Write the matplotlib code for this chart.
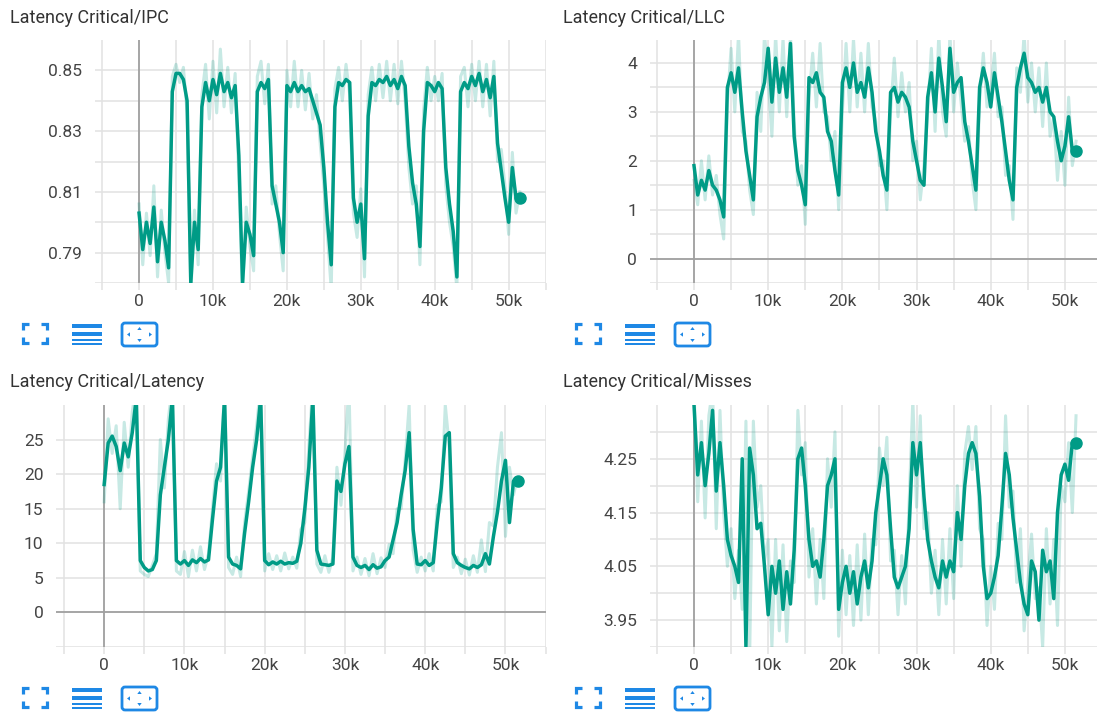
import matplotlib.pyplot as plt
import numpy as np
from matplotlib.patches import FancyBboxPatch, Polygon, Rectangle

plt.rcParams['font.family'] = ['Roboto', 'DejaVu Sans']

# training step of each logged point
steps = np.arange(0, 52000, 500)

# smoothed (dark) and raw (light) values
ipc = [0.803, 0.791, 0.800, 0.793, 0.805, 0.787, 0.800, 0.794, 0.785, 0.843,
       0.849, 0.849, 0.847, 0.840, 0.780, 0.800, 0.791, 0.838, 0.846, 0.840,
       0.847, 0.842, 0.849, 0.843, 0.846, 0.841, 0.845, 0.822, 0.780, 0.800,
       0.796, 0.789, 0.843, 0.846, 0.844, 0.847, 0.812, 0.806, 0.800, 0.790,
       0.845, 0.843, 0.846, 0.843, 0.845, 0.843, 0.844, 0.840, 0.836, 0.832,
       0.818, 0.800, 0.786, 0.838, 0.846, 0.845, 0.847, 0.846, 0.808, 0.800,
       0.806, 0.788, 0.835, 0.846, 0.845, 0.847, 0.846, 0.848, 0.845, 0.847,
       0.844, 0.848, 0.845, 0.825, 0.813, 0.806, 0.792, 0.830, 0.846, 0.845,
       0.843, 0.846, 0.844, 0.818, 0.806, 0.797, 0.782, 0.843, 0.846, 0.844,
       0.848, 0.845, 0.849, 0.843, 0.847, 0.841, 0.848, 0.826, 0.817, 0.808,
       0.800, 0.818, 0.808, 0.808]
ipc_raw = [0.806, 0.786, 0.803, 0.789, 0.812, 0.782, 0.804, 0.790, 0.780, 0.848,
           0.852, 0.846, 0.851, 0.836, 0.776, 0.804, 0.786, 0.842, 0.852, 0.834,
           0.853, 0.836, 0.857, 0.838, 0.851, 0.836, 0.849, 0.814, 0.776, 0.805,
           0.792, 0.784, 0.848, 0.853, 0.839, 0.852, 0.806, 0.812, 0.796, 0.784,
           0.850, 0.838, 0.853, 0.838, 0.850, 0.837, 0.849, 0.834, 0.842, 0.826,
           0.812, 0.795, 0.778, 0.844, 0.851, 0.840, 0.852, 0.842, 0.803, 0.795,
           0.811, 0.782, 0.842, 0.851, 0.840, 0.852, 0.841, 0.853, 0.840, 0.852,
           0.839, 0.853, 0.840, 0.818, 0.806, 0.812, 0.786, 0.837, 0.851, 0.840,
           0.848, 0.840, 0.849, 0.812, 0.800, 0.792, 0.778, 0.848, 0.851, 0.838,
           0.852, 0.840, 0.853, 0.838, 0.852, 0.835, 0.853, 0.820, 0.824, 0.812,
           0.796, 0.823, 0.803, 0.810]

llc = [1.9, 1.3, 1.6, 1.4, 1.8, 1.5, 1.4, 1.2, 0.85, 3.5,
       3.8, 3.4, 3.9, 3.0, 2.2, 1.7, 1.2, 2.9, 3.3, 3.6,
       4.3, 3.2, 4.1, 3.4, 3.9, 3.3, 4.4, 2.5, 1.8, 1.5,
       1.1, 3.7, 3.6, 3.8, 3.4, 3.3, 2.6, 2.4, 1.8, 1.3,
       3.6, 3.9, 3.5, 4.0, 3.4, 3.6, 3.3, 3.9, 3.4, 2.6,
       2.2, 1.7, 1.4, 3.4, 3.5, 3.2, 3.4, 3.3, 3.1, 2.4,
       2.0, 1.6, 1.5, 3.3, 3.8, 3.0, 4.1, 3.5, 2.8, 4.3,
       3.4, 3.6, 3.7, 2.8, 2.4, 1.9, 1.4, 3.5, 3.9, 3.6,
       3.1, 3.8, 3.3, 2.8, 2.2, 1.6, 1.2, 3.5, 3.9, 4.2,
       3.7, 3.6, 3.4, 3.5, 3.2, 3.5, 3.0, 2.9, 2.4, 2.0,
       2.3, 2.9, 2.2, 2.2]
llc_raw = [1.6, 1.1, 2.0, 1.2, 2.1, 1.3, 1.7, 0.9, 0.4, 3.2,
           4.3, 3.0, 4.6, 2.6, 2.4, 1.4, 0.9, 3.4, 2.6, 4.6,
           3.7, 2.5, 4.6, 3.0, 4.5, 2.9, 4.6, 2.8, 1.5, 1.9,
           0.7, 3.3, 4.2, 3.1, 4.4, 3.0, 2.9, 2.0, 2.6, 1.0,
           3.0, 4.4, 3.0, 4.5, 3.1, 4.2, 3.0, 4.4, 3.1, 2.8,
           1.9, 2.0, 1.0, 3.0, 4.1, 2.9, 3.8, 3.0, 3.6, 2.0,
           2.4, 1.2, 1.9, 3.0, 4.3, 2.6, 4.6, 3.0, 2.5, 4.6,
           3.0, 4.0, 3.2, 2.4, 2.7, 1.6, 1.0, 3.2, 4.2, 3.1,
           3.4, 4.2, 2.9, 3.1, 1.7, 1.9, 0.8, 3.9, 3.4, 4.6,
           3.2, 4.0, 3.0, 3.9, 2.7, 4.0, 2.5, 2.9, 1.6, 2.6,
           1.5, 3.3, 1.9, 2.4]

latency = [18.5, 24.5, 25.5, 24.0, 20.5, 24.5, 22.5, 26.0, 31.0, 7.5,
           6.5, 6.0, 6.2, 7.5, 17.0, 21.0, 25.0, 31.0, 7.5, 7.0,
           7.5, 6.8, 7.6, 7.2, 7.8, 7.3, 7.6, 13.5, 19.0, 21.0,
           31.0, 8.0, 7.0, 6.8, 6.3, 11.5, 16.0, 21.0, 25.0, 31.0,
           7.5, 6.9, 7.3, 7.0, 7.4, 7.0, 7.2, 7.1, 7.4, 10.0,
           15.0, 21.0, 31.0, 9.0, 7.0, 6.9, 6.8, 7.0, 19.0, 17.5,
           21.5, 24.0, 8.0, 6.8, 6.5, 6.8, 6.2, 6.9, 6.4, 6.6,
           7.5, 8.0, 10.5, 13.0, 17.0, 20.5, 26.0, 12.0, 7.0, 6.9,
           7.5, 6.8, 7.2, 13.0, 18.0, 25.5, 26.0, 8.5, 7.2, 6.8,
           6.5, 6.3, 6.8, 6.5, 6.9, 8.5, 7.0, 11.0, 14.5, 19.0,
           22.0, 13.0, 19.0, 19.0]
latency_raw = [16.0, 28.0, 23.0, 27.0, 15.0, 27.5, 21.0, 29.0, 33.0, 6.0,
               5.5, 5.2, 6.8, 8.5, 25.0, 18.0, 28.0, 33.0, 6.0, 5.5,
               8.8, 5.2, 9.0, 6.0, 9.5, 6.2, 8.5, 15.0, 21.5, 19.0,
               33.0, 6.5, 5.5, 8.0, 5.2, 13.0, 17.5, 22.5, 27.0, 33.0,
               6.0, 8.5, 6.2, 8.2, 6.0, 8.6, 6.3, 8.0, 6.4, 12.0,
               13.0, 24.0, 33.0, 7.0, 5.8, 8.2, 5.8, 8.0, 21.0, 15.5,
               23.0, 33.0, 6.0, 8.0, 5.5, 7.8, 5.3, 8.5, 5.6, 7.9,
               6.5, 9.8, 8.5, 15.0, 15.0, 22.0, 30.0, 9.0, 5.8, 8.0,
               6.0, 8.5, 6.0, 15.5, 16.0, 30.0, 24.0, 6.5, 8.0, 5.6,
               7.7, 5.4, 8.2, 5.8, 10.5, 5.9, 13.0, 12.5, 21.0, 26.0,
               11.0, 21.0, 17.0, 19.5]

misses = [4.35, 4.22, 4.28, 4.20, 4.26, 4.34, 4.19, 4.28, 4.20, 4.10,
          4.07, 4.05, 4.02, 4.25, 3.90, 4.27, 4.22, 4.12, 4.13, 4.05,
          3.96, 4.05, 4.00, 4.06, 3.97, 4.04, 3.98, 4.08, 4.25, 4.27,
          4.20, 4.10, 4.05, 4.06, 4.03, 4.10, 4.20, 4.22, 4.25, 3.97,
          4.02, 4.05, 4.00, 4.04, 3.98, 4.03, 4.06, 4.01, 4.06, 4.15,
          4.20, 4.25, 4.22, 4.12, 4.03, 4.01, 4.03, 4.05, 4.12, 4.28,
          4.22, 4.28, 4.18, 4.10, 4.06, 4.03, 4.01, 4.06, 4.03, 4.06,
          4.04, 4.15, 4.10, 4.20, 4.26, 4.28, 4.26, 4.18, 4.05, 3.99,
          4.00, 4.03, 4.07, 4.16, 4.26, 4.22, 4.14, 4.08, 4.02, 3.98,
          3.96, 4.06, 4.04, 3.95, 4.08, 4.04, 4.06, 3.99, 4.15, 4.22,
          4.24, 4.21, 4.28, 4.28]
misses_raw = [4.38, 4.17, 4.32, 4.14, 4.33, 4.38, 4.12, 4.34, 4.15, 4.05,
              4.12, 3.99, 4.08, 3.97, 4.32, 3.88, 4.32, 4.16, 4.20, 4.06,
              4.10, 3.90, 4.10, 3.93, 4.09, 3.91, 4.06, 4.02, 4.34, 4.22,
              4.28, 4.03, 4.12, 3.98, 4.10, 3.99, 4.25, 4.16, 4.30, 3.92,
              4.08, 3.96, 4.07, 3.94, 4.09, 3.95, 4.11, 3.96, 4.10, 4.09,
              4.27, 4.20, 4.29, 4.06, 4.08, 3.96, 4.07, 3.98, 4.17, 4.36,
              4.16, 4.33, 4.12, 4.15, 4.00, 4.08, 3.96, 4.10, 3.98, 4.12,
              3.99, 4.20, 4.05, 4.26, 4.31, 4.23, 4.31, 4.12, 4.10, 3.94,
              4.05, 3.97, 4.13, 4.10, 4.33, 4.16, 4.19, 4.02, 4.12, 3.93,
              4.02, 4.11, 3.99, 4.01, 3.90, 4.12, 3.98, 4.10, 3.94, 4.20,
              4.17, 4.28, 4.15, 4.33]

x_ticks = [0, 10000, 20000, 30000, 40000, 50000]
x_labels = ['0', '10k', '20k', '30k', '40k', '50k']
x_minor = [-5000, 5000, 15000, 25000, 35000, 45000, 55000]

TEAL = '#009b86'
GRID = '#e2e2e2'
ZERO = '#a0a0a0'
BLUE = '#1e88e5'
W, H = 1097, 715

fig = plt.figure(figsize=(W / 100, H / 100), dpi=100)

# overlay in pixel units for the tool icons under each card
ov = fig.add_axes([0, 0, 1, 1])
ov.set_xlim(0, W)
ov.set_ylim(H, 0)
ov.axis('off')


def icons(ox, oy):
    # fullscreen brackets
    a = 6
    for cx, cy, sx, sy in [(ox, oy, 1, 1), (ox + 24, oy, -1, 1),
                           (ox, oy + 19, 1, -1), (ox + 24, oy + 19, -1, -1)]:
        ov.plot([cx, cx, cx + sx * a], [cy + sy * a, cy, cy], color=BLUE,
                lw=2.3, solid_joinstyle='miter', solid_capstyle='butt')
    # list lines
    lx = ox + 49
    for y0, h in [(0, 4), (8, 4), (15, 2), (19, 2)]:
        ov.add_patch(Rectangle((lx, oy + y0), 30, h, color=BLUE, lw=0))
    # fit domain box
    bx = ox + 99
    ov.add_patch(FancyBboxPatch((bx, oy - 1), 35, 23, boxstyle='round,pad=0,rounding_size=3',
                                fill=False, ec=BLUE, lw=2))
    cx, cy = bx + 17.5, oy + 10.5
    s = 2.2
    for tri in [[(bx + 5, cy), (bx + 8, cy - s), (bx + 8, cy + s)],
                [(bx + 30, cy), (bx + 27, cy - s), (bx + 27, cy + s)],
                [(cx, oy + 3), (cx - s, oy + 6), (cx + s, oy + 6)],
                [(cx, oy + 18), (cx - s, oy + 15), (cx + s, oy + 15)]]:
        ov.add_patch(Polygon(tri, closed=True, color=BLUE, lw=0))


panels = [
    ('Latency Critical/IPC', ipc, ipc_raw, (94.7, 40, 545.6, 283), (0.78, 0.86),
     [0.79, 0.81, 0.83, 0.85], ['0.79', '0.81', '0.83', '0.85'], [0.78, 0.80, 0.82, 0.84], False, (10, 23)),
    ('Latency Critical/LLC', llc, llc_raw, (649.5, 40, 1102, 283), (-0.5, 4.47),
     [0, 1, 2, 3, 4], ['0', '1', '2', '3', '4'], [-0.5, 0.5, 1.5, 2.5, 3.5], True, (563, 23)),
    ('Latency Critical/Latency', latency, latency_raw, (56, 405, 545.6, 647), (-5, 30),
     [0, 5, 10, 15, 20, 25], ['0', '5', '10', '15', '20', '25'], [-5], True, (10, 387)),
    ('Latency Critical/Misses', misses, misses_raw, (649.5, 405, 1102, 647), (3.90, 4.35),
     [3.95, 4.05, 4.15, 4.25], ['3.95', '4.05', '4.15', '4.25'], [3.90, 4.00, 4.10, 4.20, 4.30], False, (563, 387)),
]

for title, vals, raw, box, ylim, yt, yl, ym, zero_h, tpos in panels:
    l, t, r, b = box
    ax = fig.add_axes([l / W, 1 - b / H, (r - l) / W, (b - t) / H])
    ax.set_facecolor('none')
    for sp in ax.spines.values():
        sp.set_visible(False)
    ax.set_xlim(-6000, 55000)
    ax.set_ylim(*ylim)
    ax.set_xticks(x_ticks)
    ax.set_xticklabels(x_labels)
    ax.set_xticks(x_minor, minor=True)
    ax.set_yticks(yt)
    ax.set_yticklabels(yl)
    ax.set_yticks(ym, minor=True)
    ax.set_axisbelow(True)
    ax.grid(True, which='both', color=GRID, lw=1.1)
    ax.tick_params(axis='x', which='both', length=5, width=1.1, color=GRID,
                   labelsize=12.5, labelcolor='#444444', pad=3)
    ax.tick_params(axis='y', which='both', length=0, labelsize=12.5,
                   labelcolor='#444444', pad=9)
    ax.axvline(0, color=ZERO, lw=1.3, zorder=1)
    if zero_h:
        ax.axhline(0, color=ZERO, lw=1.3, zorder=1)
    ax.plot(steps, raw, color=TEAL, alpha=0.22, lw=2.2, zorder=2)
    ax.plot(steps, vals, color=TEAL, lw=2.5, zorder=3)
    ax.plot(steps[-1], vals[-1], 'o', ms=8, color=TEAL, zorder=4, clip_on=False)
    fig.text(tpos[0] / W, 1 - tpos[1] / H, title, fontsize=13, color='#333333',
             va='baseline', ha='left')

icons(23, 324)
icons(576, 324)
icons(23, 688)
icons(576, 688)

fig.savefig('out.png', dpi=100)
